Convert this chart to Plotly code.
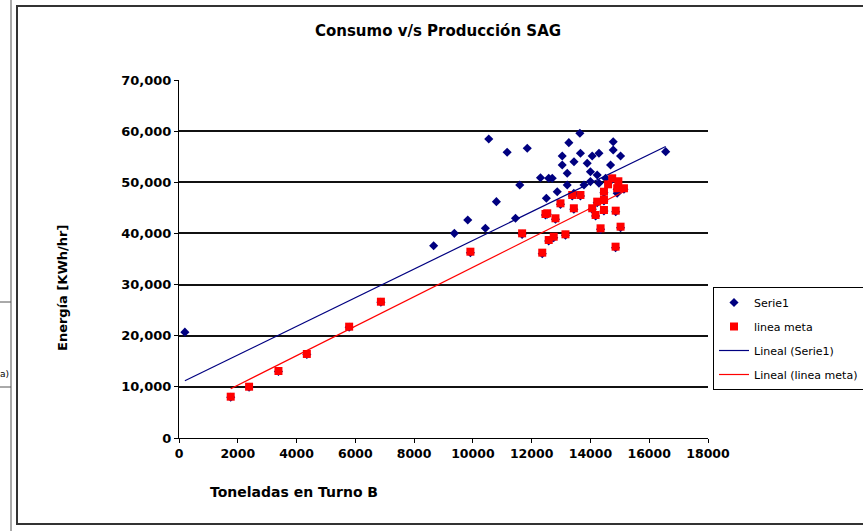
import numpy as np
import plotly.graph_objects as go

# ---------------- data ----------------
serie1_x = [200, 8665, 9370, 9825, 10425, 10540, 10800, 11165, 11450, 11595,
            11850, 12500, 12580, 12700, 12870, 13040, 13040, 13210, 13210, 13265,
            13435, 13440, 13640, 13660, 13780, 13890, 14000, 14000, 14060, 14230,
            14290, 14290, 14515, 14685, 14775, 14775, 15025, 16560, 14910, 12300,
            # points hidden under the red squares
            1760, 2385, 3384, 4350, 5790, 6870, 9915, 11675, 12470, 12360,
            12580, 14740, 14910, 15140, 14460, 13660, 13380, 14230, 14460, 12980,
            13435, 12530, 12810, 14060, 14460, 14175, 14860, 14345, 15025, 12750,
            13150, 14855]
serie1_y = [20700, 37600, 40020, 42630, 41000, 58470, 46210, 55870, 42960, 49470,
            56650, 46870, 50780, 50780, 48160, 55140, 53380, 51760, 49470, 57750,
            47850, 54030, 59580, 55670, 49470, 53720, 52070, 50130, 55140, 51430,
            55670, 49800, 50780, 53380, 57940, 56320, 55140, 55990, 47850, 50900,
            7960, 9920, 12990, 16330, 21660, 26540, 36230, 39820, 43600, 36040,
            38520, 50580, 48630, 48630, 47960, 47320, 47320, 46010, 46340, 45690,
            44720, 43740, 42760, 44720, 44380, 43410, 44250, 40800, 41120, 39160,
            39630, 37210]

meta_x = [1760, 2385, 3384, 4350, 5790, 6870, 9915, 11675, 12470, 12360,
          12580, 14740, 14910, 15140, 14460, 13660, 13380, 14230, 14460, 12980,
          13435, 12530, 12810, 14060, 14460, 14175, 14860, 14345, 15025, 12750,
          13150, 14855, 14600, 14950]
meta_y = [8080, 10030, 13100, 16430, 21770, 26650, 36430, 40020, 43800, 36240,
          38720, 50780, 48830, 48830, 48160, 47520, 47520, 46210, 46540, 45890,
          44920, 43940, 42960, 44920, 44580, 43610, 44450, 41000, 41320, 39360,
          39830, 37410, 49600, 50200]

x_ticks = [0, 2000, 4000, 6000, 8000, 10000, 12000, 14000, 16000, 18000]
y_ticks = [0, 10000, 20000, 30000, 40000, 50000, 60000, 70000]

title_text = "Consumo v/s Producción SAG"
x_title = "Toneladas en Turno B"
y_title = "Energía [KWh/hr]"

# ---------------- linear trend lines (least squares) ----------------
def trend(xs, ys):
    a, b = np.polyfit(xs, ys, 1)
    xe = np.array([min(xs), max(xs)], dtype=float)
    return xe, a * xe + b

t1x, t1y = trend(serie1_x, serie1_y)
t2x, t2y = trend(meta_x, meta_y)

NAVY = "#000080"
RED = "#FF0000"
FONT = "DejaVu Sans, Verdana, sans-serif"

fig = go.Figure()
fig.add_trace(go.Scatter(x=serie1_x, y=serie1_y, mode="markers", name="Serie1",
                         legendgroup="a",
                         marker=dict(symbol="diamond", size=7, color=NAVY,
                                     line=dict(width=0))))
fig.add_trace(go.Scatter(x=meta_x, y=meta_y, mode="markers", name="linea meta",
                         legendgroup="b",
                         marker=dict(symbol="square", size=8, color=RED,
                                     line=dict(width=0))))
fig.add_trace(go.Scatter(x=t1x, y=t1y, mode="lines", name="Lineal (Serie1)",
                         legendgroup="c", line=dict(color=NAVY, width=1.2)))
fig.add_trace(go.Scatter(x=t2x, y=t2y, mode="lines", name="Lineal (linea meta)",
                         legendgroup="d", line=dict(color=RED, width=1.2)))

# plot area: x 179..708 px, y 80..438 px
W, H = 863, 531
L, R, T, B = 179, 708, 80, 438
def px(xp):
    return (xp - L) / (R - L)
def py(yp):
    return (B - yp) / (B - T)

fig.update_layout(
    width=W, height=H,
    margin=dict(l=L, r=W - R, t=T, b=H - B, autoexpand=False),
    paper_bgcolor="white", plot_bgcolor="white",
    font=dict(family=FONT, size=10, color="black"),
    showlegend=True,
    legend=dict(x=px(713), y=py(287), xanchor="left", yanchor="top",
                bordercolor="black", borderwidth=1, bgcolor="white",
                font=dict(family=FONT, size=11, color="black"),
                tracegroupgap=5, traceorder="grouped"),
    title=dict(text=title_text, xref="container", yref="container",
               x=438 / W, y=1 - 31 / H, xanchor="center", yanchor="middle",
               font=dict(family=FONT, size=15, color="black", weight="bold")),
    xaxis=dict(range=[0, 18000], tickvals=x_ticks, ticktext=[str(v) for v in x_ticks],
               showgrid=False, zeroline=False, showline=True, linecolor="black",
               linewidth=1, ticks="outside", ticklen=4, tickcolor="black",
               tickfont=dict(family=FONT, size=12.5, weight="bold")),
    yaxis=dict(range=[0, 70000], tickvals=y_ticks, tickformat=",",
               showgrid=True, gridcolor="#111111", gridwidth=1.5,
               zeroline=False, showline=True, linecolor="black", linewidth=1,
               ticks="outside", ticklen=4, tickcolor="black",
               tickfont=dict(family=FONT, size=13, weight="bold")),
)

fig.add_annotation(text=y_title, xref="paper", yref="paper",
                   x=px(62), y=py(288), textangle=-90, showarrow=False,
                   xanchor="center", yanchor="middle",
                   font=dict(family=FONT, size=13, color="black", weight="bold"))
fig.add_annotation(text=x_title, xref="paper", yref="paper",
                   x=px(208), y=py(492), showarrow=False,
                   xanchor="left", yanchor="middle",
                   font=dict(family=FONT, size=14, color="black", weight="bold"))
fig.add_annotation(text="a)", xref="paper", yref="paper",
                   x=px(11), y=py(374), showarrow=False,
                   xanchor="right", yanchor="middle",
                   font=dict(family=FONT, size=9, color="black"))

# chart frame and neighbouring spreadsheet frame slivers
fig.add_shape(type="rect", xref="paper", yref="paper",
              x0=px(17), x1=px(880), y0=py(524), y1=py(6),
              line=dict(color="#333333", width=2), layer="below")
fig.add_shape(type="line", xref="paper", yref="paper",
              x0=px(11), x1=px(11), y0=py(540), y1=py(-10),
              line=dict(color="#555555", width=1))
for yl in (302, 387):
    fig.add_shape(type="line", xref="paper", yref="paper",
                  x0=px(-5), x1=px(11), y0=py(yl), y1=py(yl),
                  line=dict(color="#555555", width=1))

fig.write_html("out.html",
               config={"displayModeBar": False},
               post_script="document.body.style.margin='0px';"
                           "document.documentElement.style.overflow='hidden';")
